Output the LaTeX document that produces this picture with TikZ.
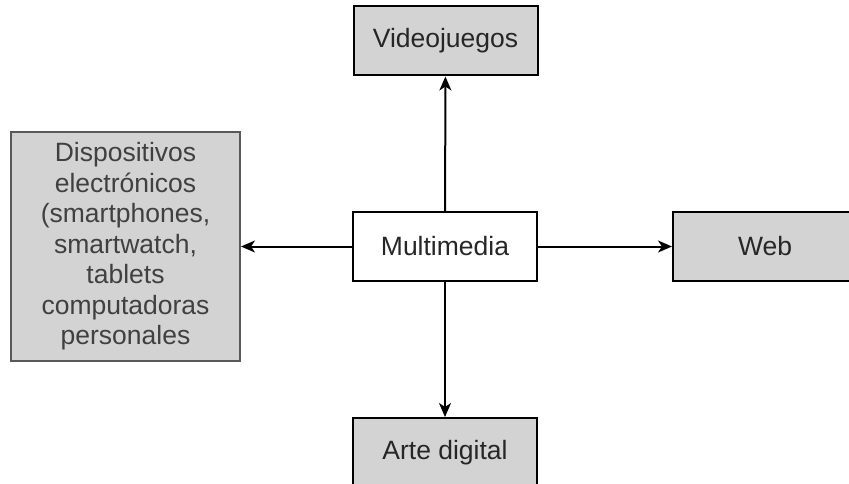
\documentclass[tikz,border=0pt]{standalone}
\usepackage{fontspec}
\setmainfont{Liberation Sans}
\usetikzlibrary{arrows.meta}
\definecolor{boxgray}{HTML}{D3D3D3}
\tikzset{
  base/.style={draw=black, line width=2pt, minimum width=184pt, minimum height=69pt,
    inner sep=0pt, text=black!85, font=\fontsize{26.5}{30.5}\selectfont},
  graybox/.style={base, fill=boxgray},
  whitebox/.style={base, fill=white},
  link/.style={line width=2pt, -{Stealth[length=14pt,width=12pt,inset=4pt]}}
}
\begin{document}
\begin{tikzpicture}[x=1pt,y=-1pt]
  \useasboundingbox (0,0) rectangle (849,484);
  \node[whitebox] (mm) at (445,246.5) {Multimedia};
  \node[graybox] (vj) at (445.5,41) {Videojuegos};
  \node[graybox, draw=black!65, text=black!75, minimum width=229pt, minimum height=229pt,
        align=center] (dev) at (125.5,246.5)
    {Dispositivos\\electrónicos\\(smartphones,\\smartwatch,\\tablets\\computadoras\\personales};
  \node[graybox] (web) at (765,246.5) {Web};
  \node[graybox] (art) at (445,452.5) {Arte digital};
  \draw[link] (mm) -- (vj);
  \draw[link] (mm) -- (dev);
  \draw[link] (mm) -- (web);
  \draw[link] (mm) -- (art);
\end{tikzpicture}
\end{document}
